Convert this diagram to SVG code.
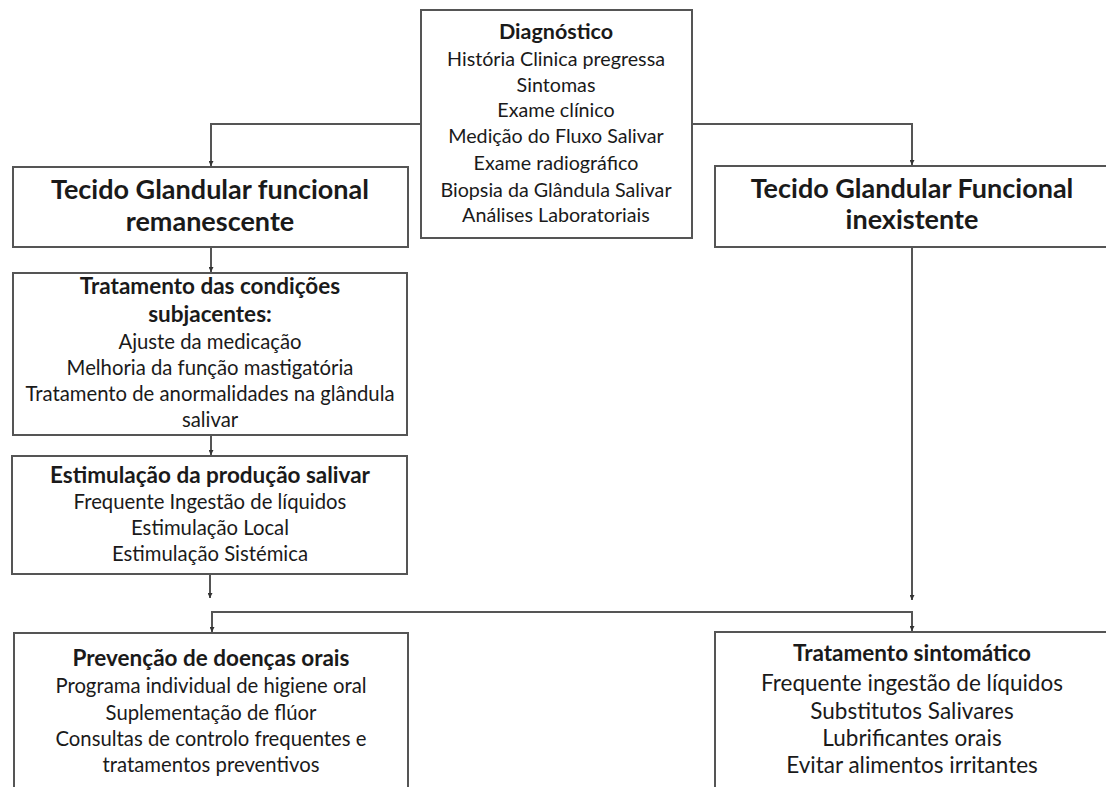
<svg xmlns="http://www.w3.org/2000/svg" width="1106" height="787" viewBox="0 0 1106 787">
<style>
.box{fill:#fff;stroke:#555;stroke-width:2}
.c{fill:none;stroke:#555;stroke-width:2}
text{font-family:Lato,"Liberation Sans",sans-serif;fill:#1a1a1a;text-anchor:middle}
.b{font-weight:bold}
.dt{font-size:21.5px;font-weight:bold}
.d{font-size:19.7px}
.t1{font-size:27px;font-weight:bold}
.mt{font-size:22.5px;font-weight:bold}
.m{font-size:20.3px}
.r{font-size:22.5px}
</style>
<defs>
<marker id="a" viewBox="0 0 6 6" refX="6" refY="3" markerWidth="5" markerHeight="5" orient="auto" markerUnits="userSpaceOnUse">
<path d="M0,0L6,3L0,6z" fill="#333"/>
</marker>
</defs>
<rect width="1106" height="787" fill="#fff"/>
<g id="connectors">
<path class="c" d="M421,124H211V166" marker-end="url(#a)"/>
<path class="c" d="M692,124H912V165" marker-end="url(#a)"/>
<path class="c" d="M211,247V272" marker-end="url(#a)"/>
<path class="c" d="M211,435V455" marker-end="url(#a)"/>
<path class="c" d="M210,574V598" marker-end="url(#a)"/>
<path class="c" d="M912,247V600" marker-end="url(#a)"/>
<path class="c" d="M212,632V612H912V631" marker-end="url(#a)"/>
<path class="c" d="M212,614V632" marker-end="url(#a)"/>
</g>
<g id="diagnostico">
<rect class="box" x="421" y="10" width="271" height="228"/>
<text class="dt" x="556" y="39">Diagnóstico</text>
<text class="d" x="556" y="66">História Clinica pregressa</text>
<text class="d" x="556" y="92">Sintomas</text>
<text class="d" x="556" y="117">Exame clínico</text>
<text class="d" x="556" y="143">Medição do Fluxo Salivar</text>
<text class="d" x="556" y="170">Exame radiográfico</text>
<text class="d" x="556" y="197">Biopsia da Glândula Salivar</text>
<text class="d" x="556" y="222">Análises Laboratoriais</text>
</g>
<g id="tecido-remanescente">
<rect class="box" x="13" y="167" width="395" height="80"/>
<text class="t1" x="210" y="199">Tecido Glandular funcional</text>
<text class="t1" x="210" y="231">remanescente</text>
</g>
<g id="tecido-inexistente">
<rect class="box" x="715" y="166" width="400" height="81"/>
<text class="t1" x="912" y="198">Tecido Glandular Funcional</text>
<text class="t1" x="912" y="229">inexistente</text>
</g>
<g id="tratamento-condicoes">
<rect class="box" x="13" y="273" width="394" height="162"/>
<text class="mt" x="210" y="294">Tratamento das condições</text>
<text class="mt" x="210" y="322">subjacentes:</text>
<text class="m" x="210" y="349">Ajuste da medicação</text>
<text class="m" x="210" y="375">Melhoria da função mastigatória</text>
<text class="m" x="210" y="401">Tratamento de anormalidades na glândula</text>
<text class="m" x="210" y="427">salivar</text>
</g>
<g id="estimulacao">
<rect class="box" x="12" y="456" width="395" height="118"/>
<text class="mt" x="210" y="483">Estimulação da produção salivar</text>
<text class="m" x="210" y="509">Frequente Ingestão de líquidos</text>
<text class="m" x="210" y="535">Estimulação Local</text>
<text class="m" x="210" y="561">Estimulação Sistémica</text>
</g>
<g id="prevencao">
<rect class="box" x="14" y="633" width="394" height="170"/>
<text class="mt" x="211" y="666">Prevenção de doenças orais</text>
<text class="m" x="211" y="693">Programa individual de higiene oral</text>
<text class="m" x="211" y="720">Suplementação de flúor</text>
<text class="m" x="211" y="746">Consultas de controlo frequentes e</text>
<text class="m" x="211" y="772">tratamentos preventivos</text>
</g>
<g id="tratamento-sintomatico">
<rect class="box" x="715" y="632" width="400" height="170"/>
<text class="mt" x="912" y="661">Tratamento sintomático</text>
<text class="r" x="912" y="691">Frequente ingestão de líquidos</text>
<text class="r" x="912" y="719">Substitutos Salivares</text>
<text class="r" x="912" y="746">Lubrificantes orais</text>
<text class="r" x="912" y="773">Evitar alimentos irritantes</text>
</g>
</svg>
